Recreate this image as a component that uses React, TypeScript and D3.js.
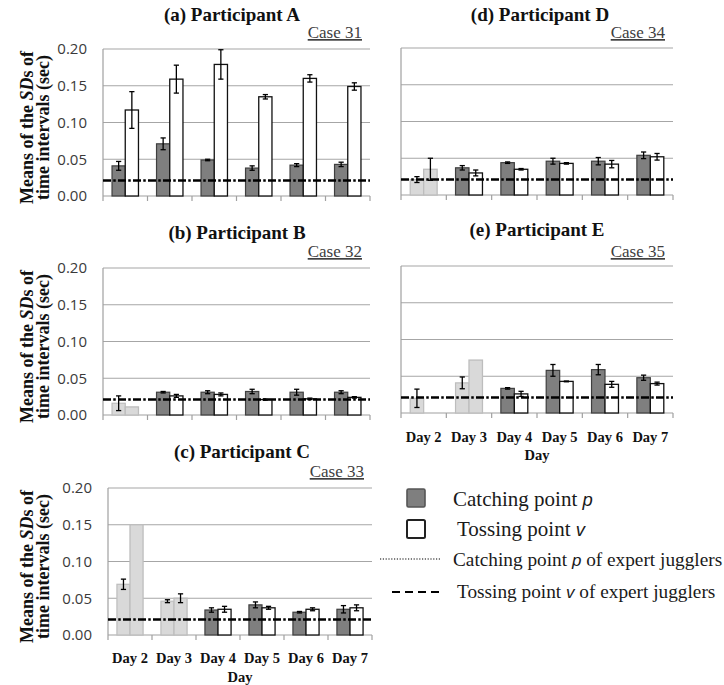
import React from "react";
import * as d3 from "d3";

// ---------- data ----------
const days = ["Day 2", "Day 3", "Day 4", "Day 5", "Day 6", "Day 7"];
const yTicks = [0, 0.05, 0.1, 0.15, 0.2];
const yTickLabels = ["0.00", "0.05", "0.10", "0.15", "0.20"];
const expertCatching = 0.021;
const expertTossing = 0.021;

// (a) Participant A — Case 31
const aCatching = [0.041, 0.071, 0.049, 0.038, 0.042, 0.043];
const aCatchingErr = [0.006, 0.008, 0.001, 0.003, 0.002, 0.003];
const aTossing = [0.117, 0.159, 0.179, 0.135, 0.16, 0.149];
const aTossingErr = [0.025, 0.019, 0.02, 0.003, 0.005, 0.005];
const aPale = [false, false, false, false, false, false];

// (b) Participant B — Case 32
const bCatching = [0.016, 0.031, 0.031, 0.032, 0.031, 0.031];
const bCatchingErr = [0.01, 0.001, 0.002, 0.003, 0.004, 0.002];
const bTossing = [0.011, 0.026, 0.028, 0.021, 0.022, 0.024];
const bTossingErr = [0, 0.002, 0.002, 0.001, 0.001, 0.001];
const bPale = [true, false, false, false, false, false];

// (c) Participant C — Case 33
const cCatching = [0.069, 0.046, 0.034, 0.041, 0.031, 0.035];
const cCatchingErr = [0.007, 0.002, 0.003, 0.004, 0.001, 0.005];
const cTossing = [0.15, 0.05, 0.035, 0.037, 0.035, 0.037];
const cTossingErr = [0, 0.006, 0.004, 0.002, 0.002, 0.004];
const cPale = [true, true, false, false, false, false];

// (d) Participant D — Case 34
const dCatching = [0.021, 0.037, 0.044, 0.046, 0.046, 0.054];
const dCatchingErr = [0.004, 0.003, 0.001, 0.004, 0.005, 0.0045];
const dTossing = [0.035, 0.03, 0.035, 0.043, 0.042, 0.052];
const dTossingErr = [0.015, 0.004, 0.001, 0.001, 0.005, 0.0045];
const dPale = [true, false, false, false, false, false];

// (e) Participant E — Case 35
const eCatching = [0.02, 0.041, 0.0335, 0.058, 0.059, 0.048];
const eCatchingErr = [0.0125, 0.008, 0.001, 0.008, 0.007, 0.0035];
const eTossing: (number | null)[] = [null, 0.072, 0.026, 0.043, 0.039, 0.04];
const eTossingErr: (number | null)[] = [null, 0, 0.0035, 0.0005, 0.004, 0.002];
const ePale = [true, true, false, false, false, false];

const legendLabels = [
  "Catching point ",
  "Tossing point ",
  "Catching point ",
  "Tossing point ",
];
const legendSymbols = ["p", "v", "p", "v"];
const legendSuffix = ["", "", " of expert jugglers", " of expert jugglers"];

// ---------- layout ----------
type Geo = {
  left: number; right: number; top: number; bottom: number;
  titleX: number; titleY: number; caseY: number;
  yAxis: boolean; xAxis: boolean; xLabelY?: number; xTitleY?: number;
};

const SERIF = "'Liberation Serif', 'Times New Roman', serif";
const SANS = "'Open Sans', 'Noto Sans', sans-serif";

const panels = [
  { title: "(a) Participant A", caseLabel: "Case 31", catching: aCatching, catchingErr: aCatchingErr, tossing: aTossing as (number | null)[], tossingErr: aTossingErr as (number | null)[], pale: aPale,
    geo: { left: 103, right: 370, top: 49, bottom: 196, titleX: 232, titleY: 21, caseY: 38, yAxis: true, xAxis: false } as Geo },
  { title: "(b) Participant B", caseLabel: "Case 32", catching: bCatching, catchingErr: bCatchingErr, tossing: bTossing as (number | null)[], tossingErr: bTossingErr as (number | null)[], pale: bPale,
    geo: { left: 103, right: 370, top: 268, bottom: 415, titleX: 237, titleY: 239, caseY: 257, yAxis: true, xAxis: false } as Geo },
  { title: "(c) Participant C", caseLabel: "Case 33", catching: cCatching, catchingErr: cCatchingErr, tossing: cTossing as (number | null)[], tossingErr: cTossingErr as (number | null)[], pale: cPale,
    geo: { left: 108, right: 372, top: 488, bottom: 635, titleX: 242, titleY: 458, caseY: 477, yAxis: true, xAxis: true, xLabelY: 663, xTitleY: 682 } as Geo },
  { title: "(d) Participant D", caseLabel: "Case 34", catching: dCatching, catchingErr: dCatchingErr, tossing: dTossing as (number | null)[], tossingErr: dTossingErr as (number | null)[], pale: dPale,
    geo: { left: 401, right: 673, top: 48, bottom: 195, titleX: 540, titleY: 21, caseY: 38, yAxis: false, xAxis: false } as Geo },
  { title: "(e) Participant E", caseLabel: "Case 35", catching: eCatching, catchingErr: eCatchingErr, tossing: eTossing, tossingErr: eTossingErr, pale: ePale,
    geo: { left: 401, right: 673, top: 266, bottom: 413, titleX: 537, titleY: 236, caseY: 257, yAxis: false, xAxis: true, xLabelY: 442, xTitleY: 460 } as Geo },
];

const COLORS = {
  grid: "#a6a6a6",
  axis: "#a0a0a0",
  dark: "#7f7f7f",
  darkStroke: "#3f3f3f",
  pale: "#d9d9d9",
  paleStroke: "#bdbdbd",
  white: "#ffffff",
  whiteStroke: "#111111",
};

function ErrorBar({ x, y, err, yScale }: { x: number; y: number; err: number; yScale: d3.ScaleLinear<number, number> }) {
  const y1 = yScale(y + err);
  const y2 = yScale(y - err);
  const cap = 2.6;
  return (
    <g stroke="#000" strokeWidth={1.3}>
      <line x1={x} x2={x} y1={y1} y2={y2} />
      <line x1={x - cap} x2={x + cap} y1={y1} y2={y1} />
      <line x1={x - cap} x2={x + cap} y1={y2} y2={y2} />
    </g>
  );
}

function Panel({ p }: { p: (typeof panels)[number] }) {
  const g = p.geo;
  const x = d3.scaleBand<string>().domain(days).range([g.left, g.right]).padding(0);
  const y = d3.scaleLinear().domain([0, 0.2]).range([g.bottom, g.top]);
  const band = x.bandwidth();
  const bw = band * 0.297;
  const cy = (g.top + g.bottom) / 2 + 5;
  const boundaries = days.map((d) => x(d) as number).concat([g.right]);

  return (
    <g>
      {/* gridlines */}
      {yTicks.slice(1).map((t) => (
        <line key={t} x1={g.left} x2={g.right} y1={y(t)} y2={y(t)} stroke={COLORS.grid} strokeWidth={1.2} />
      ))}
      {/* left axis */}
      <line x1={g.left} x2={g.left} y1={g.top} y2={g.bottom} stroke={COLORS.axis} strokeWidth={1.2} />
      {/* bottom axis */}
      <line x1={g.left} x2={g.right} y1={g.bottom} y2={g.bottom} stroke={COLORS.axis} strokeWidth={1.2} />
      {boundaries.map((b, i) => (
        <line key={i} x1={b} x2={b} y1={g.bottom} y2={g.bottom + 5} stroke={COLORS.axis} strokeWidth={1.2} />
      ))}
      {/* bars */}
      {days.map((d, i) => {
        const x0 = (x(d) as number) + (band - 2 * bw) / 2;
        const pale = p.pale[i];
        const c = p.catching[i];
        const t = p.tossing[i];
        return (
          <g key={d}>
            {c != null && (
              <rect x={x0} y={y(c)} width={bw} height={y(0) - y(c)}
                fill={pale ? COLORS.pale : COLORS.dark} stroke={pale ? COLORS.paleStroke : COLORS.darkStroke} strokeWidth={1.2} />
            )}
            {t != null && (
              <rect x={x0 + bw} y={y(t)} width={bw} height={y(0) - y(t)}
                fill={pale ? COLORS.pale : COLORS.white} stroke={pale ? COLORS.paleStroke : COLORS.whiteStroke} strokeWidth={1.3} />
            )}
          </g>
        );
      })}
      {/* error bars */}
      {days.map((d, i) => {
        const x0 = (x(d) as number) + (band - 2 * bw) / 2;
        const c = p.catching[i];
        const ce = p.catchingErr[i];
        const t = p.tossing[i];
        const te = p.tossingErr[i];
        return (
          <g key={d}>
            {c != null && ce != null && ce > 0 && <ErrorBar x={x0 + bw / 2} y={c} err={ce} yScale={y} />}
            {t != null && te != null && te > 0 && <ErrorBar x={x0 + bw * 1.5} y={t} err={te} yScale={y} />}
          </g>
        );
      })}
      {/* expert reference lines */}
      <line x1={g.left} x2={g.right} y1={y(expertTossing)} y2={y(expertTossing)} stroke="#000" strokeWidth={2.6} strokeDasharray="8 7" />
      <line x1={g.left} x2={g.right} y1={y(expertCatching)} y2={y(expertCatching)} stroke="#000" strokeWidth={2.6} strokeDasharray="2.5 12.5" strokeDashoffset={4.75} />
      {/* y tick labels */}
      {g.yAxis && yTicks.map((t, i) => (
        <text key={t} x={g.left - 16} y={y(t)} dy="0.36em" textAnchor="end" fontFamily={SANS} fontSize={15} fill="#3a3a3a">
          {yTickLabels[i]}
        </text>
      ))}
      {/* y axis title */}
      {g.yAxis && (
        <g fontFamily={SERIF} fontWeight="bold" fontSize={18} fill="#111">
          <text transform={`translate(33,${cy}) rotate(-90)`} textAnchor="middle">
            Means of the <tspan fontStyle="italic">SD</tspan>s of
          </text>
          <text transform={`translate(48.5,${cy}) rotate(-90)`} textAnchor="middle">
            time intervals (sec)
          </text>
        </g>
      )}
      {/* x labels */}
      {g.xAxis && (
        <g fontFamily={SERIF} fontWeight="bold" fontSize={14.5} fill="#111" textAnchor="middle">
          {days.map((d) => (
            <text key={d} x={(x(d) as number) + band / 2} y={g.xLabelY}>{d}</text>
          ))}
          <text x={(g.left + g.right) / 2} y={g.xTitleY}>Day</text>
        </g>
      )}
      {/* titles */}
      <text x={g.titleX} y={g.titleY} textAnchor="middle" fontFamily={SERIF} fontWeight="bold" fontSize={19} fill="#111">
        {p.title}
      </text>
      <text x={g.right - 8} y={g.caseY} textAnchor="end" fontFamily={SERIF} fontSize={17} fill="#404040" style={{ textDecoration: "underline" }}>
        {p.caseLabel}
      </text>
    </g>
  );
}

function Legend() {
  const rows = [
    { y: 499, textX: 453, size: 21 },
    { y: 529, textX: 457, size: 21 },
    { y: 560, textX: 453, size: 19.3 },
    { y: 592, textX: 457, size: 19.3 },
  ];
  return (
    <g>
      <rect x={407} y={489} width={18} height={18} rx={1.5} fill={COLORS.dark} stroke="#555" strokeWidth={1.6} />
      <rect x={407} y={520} width={18} height={18} rx={1.5} fill="#fff" stroke="#222" strokeWidth={2} />
      <line x1={380} x2={440} y1={559} y2={559} stroke="#000" strokeWidth={1.2} strokeDasharray="1.2 1.6" />
      <line x1={392} x2={443} y1={592} y2={592} stroke="#000" strokeWidth={2} strokeDasharray="8 5" />
      {rows.map((r, i) => (
        <text key={i} x={r.textX} y={r.y} dy="0.33em" fontFamily={SERIF} fontSize={r.size} fill="#1a1a1a">
          {legendLabels[i]}
          <tspan fontFamily="'Liberation Sans', Arial, sans-serif" fontStyle="italic" fontSize={r.size * 0.88}>{legendSymbols[i]}</tspan>
          {legendSuffix[i]}
        </text>
      ))}
    </g>
  );
}

export default function App() {
  return (
    <svg width={724} height={685} viewBox="0 0 724 685" style={{ position: "absolute", left: 0, top: 0, background: "#fff" }}>
      <rect x={0} y={0} width={724} height={685} fill="#fff" />
      {panels.map((p) => (
        <Panel key={p.title} p={p} />
      ))}
      <Legend />
    </svg>
  );
}
